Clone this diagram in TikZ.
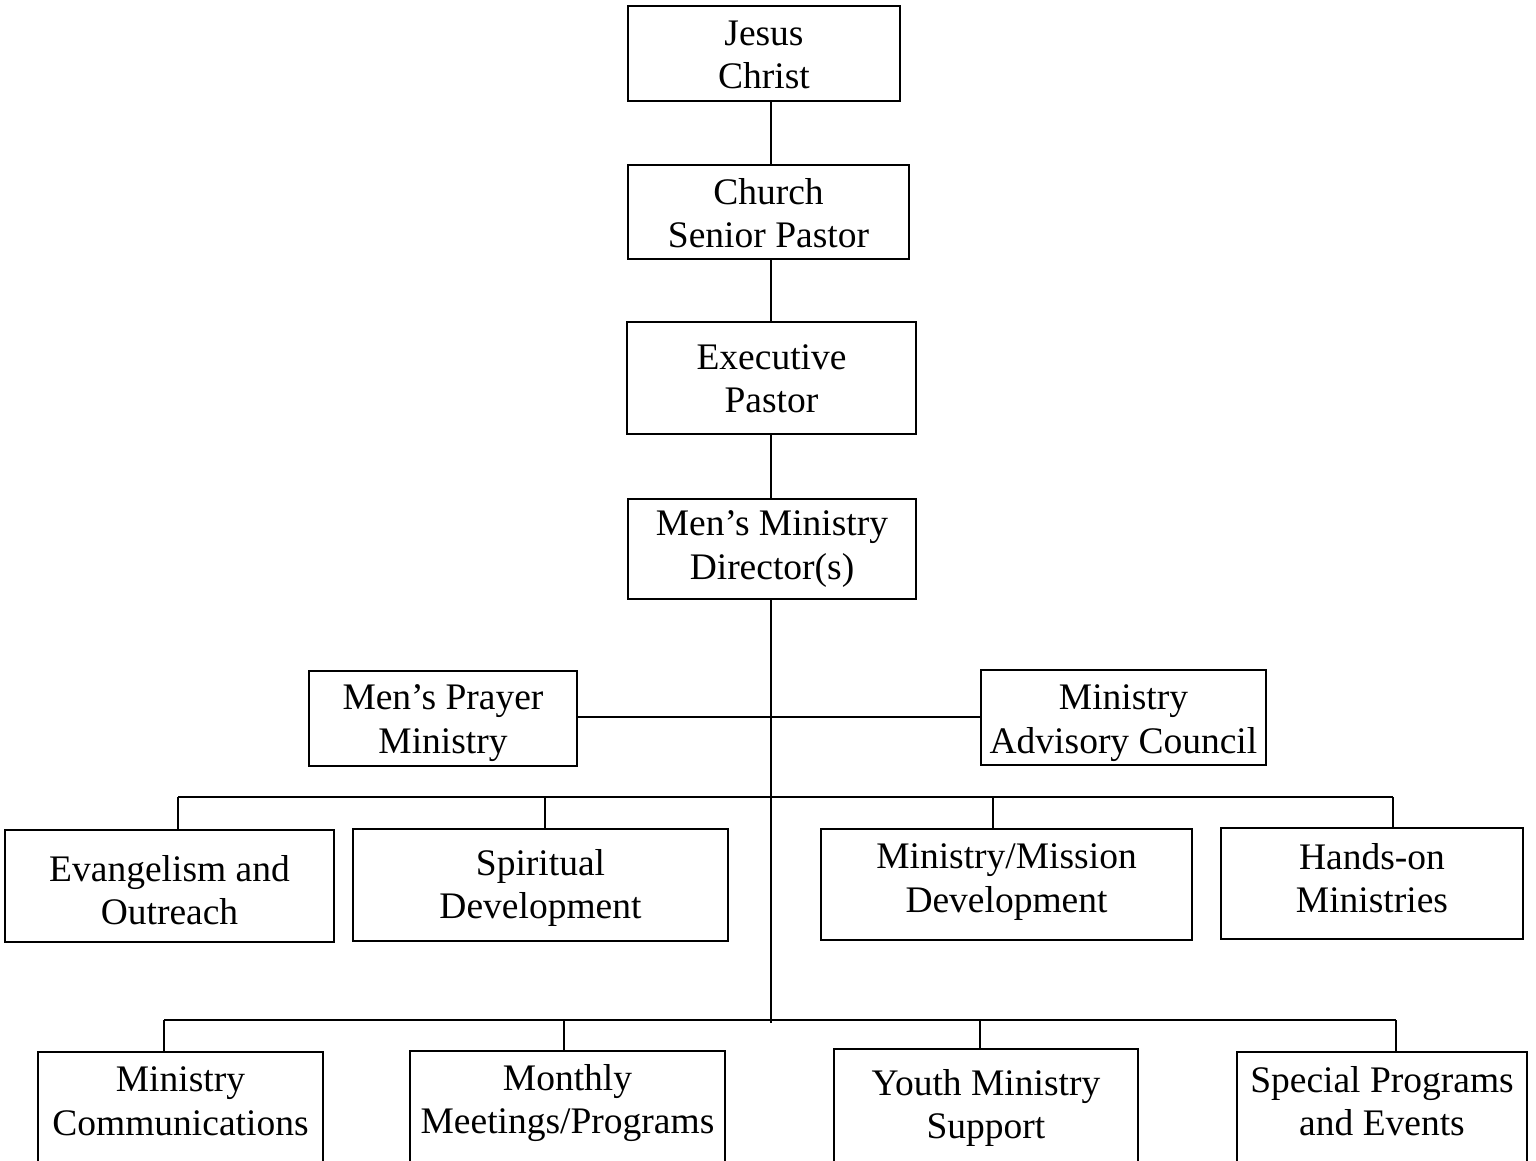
\documentclass[tikz,border=0pt]{standalone}
\usepackage{fontspec}
\setmainfont{Liberation Serif}
\begin{document}
\begin{tikzpicture}[x=1pt,y=-1pt,
  box/.style={draw=black, line width=1.7pt, rectangle, inner sep=0pt},
  txt/.style={font=\fontsize{37.5}{43.5}\selectfont, align=center, inner sep=0pt},
  conn/.style={draw=black, line width=1.7pt}]
\useasboundingbox (0,0) rectangle (1536,1160);
\clip (0,0) rectangle (1536,1160);
% box macro: name, x1, y1, x2, y2, text y, text
\newcommand{\obox}[7]{%
  \node[box, minimum width={#4-#2}, minimum height={#5-#3}] (#1) at ({(#2+#4)/2},{(#3+#5)/2}) {};
  \node[txt] (#1t) at ({(#2+#4)/2},#6) {#7};}
\obox{jesus}{628}{6}{900}{101}{55}{Jesus\\Christ}
\obox{church}{628}{165}{909}{259}{213}{Church\\Senior Pastor}
\obox{exec}{627}{322}{916}{434}{379}{Executive\\Pastor}
\obox{dir}{628}{499}{916}{599}{549}{Men’s Ministry\\Director(s)}
\obox{prayer}{309}{671}{577}{766}{723}{Men’s Prayer\\Ministry}
\obox{advisory}{981}{670}{1266}{765}{723}{Ministry\\Advisory Council}
\obox{evang}{5}{830}{334}{942}{890}{Evangelism and\\Outreach}
\obox{spirit}{353}{829}{728}{941}{888}{Spiritual\\Development}
\obox{mission}{821}{829}{1192}{940}{882}{Ministry/Mission\\Development}
\obox{hands}{1221}{828}{1523}{939}{878}{Hands-on\\Ministries}
\obox{comm}{38}{1052}{323}{1200}{1101}{Ministry\\Communications}
\obox{monthly}{410}{1051}{725}{1200}{1103}{Monthly\\Meetings/Programs}
\obox{youth}{834}{1049}{1138}{1200}{1108}{Youth Ministry\\Support}
\obox{special}{1237}{1052}{1527}{1200}{1101}{Special Programs\\and Events}
% connectors
\coordinate (tx) at (771,0);
\coordinate (trunkend) at (771,1023);
\coordinate (h1L) at (577,717);
\coordinate (l2L) at (178,797);
\coordinate (l2a) at (545,797);
\coordinate (l2b) at (993,797);
\coordinate (l2R) at (1393,797);
\coordinate (l3L) at (164,1020);
\coordinate (l3a) at (564,1020);
\coordinate (l3b) at (980,1020);
\coordinate (l3R) at (1396,1020);
\draw[conn] (jesus.south -| tx) -- (church.north -| tx);
\draw[conn] (church.south -| tx) -- (exec.north -| tx);
\draw[conn] (exec.south -| tx) -- (dir.north -| tx);
\draw[conn] (dir.south -| tx) -- (trunkend);
\draw[conn] (h1L) -- (h1L -| advisory.west);
\draw[conn] (l2L) -- (l2R);
\draw[conn] (l2L) -- (l2L |- evang.north);
\draw[conn] (l2a) -- (l2a |- spirit.north);
\draw[conn] (l2b) -- (l2b |- mission.north);
\draw[conn] (l2R) -- (l2R |- hands.north);
\draw[conn] (l3L) -- (l3R);
\draw[conn] (l3L) -- (l3L |- comm.north);
\draw[conn] (l3a) -- (l3a |- monthly.north);
\draw[conn] (l3b) -- (l3b |- youth.north);
\draw[conn] (l3R) -- (l3R |- special.north);
\end{tikzpicture}
\end{document}
